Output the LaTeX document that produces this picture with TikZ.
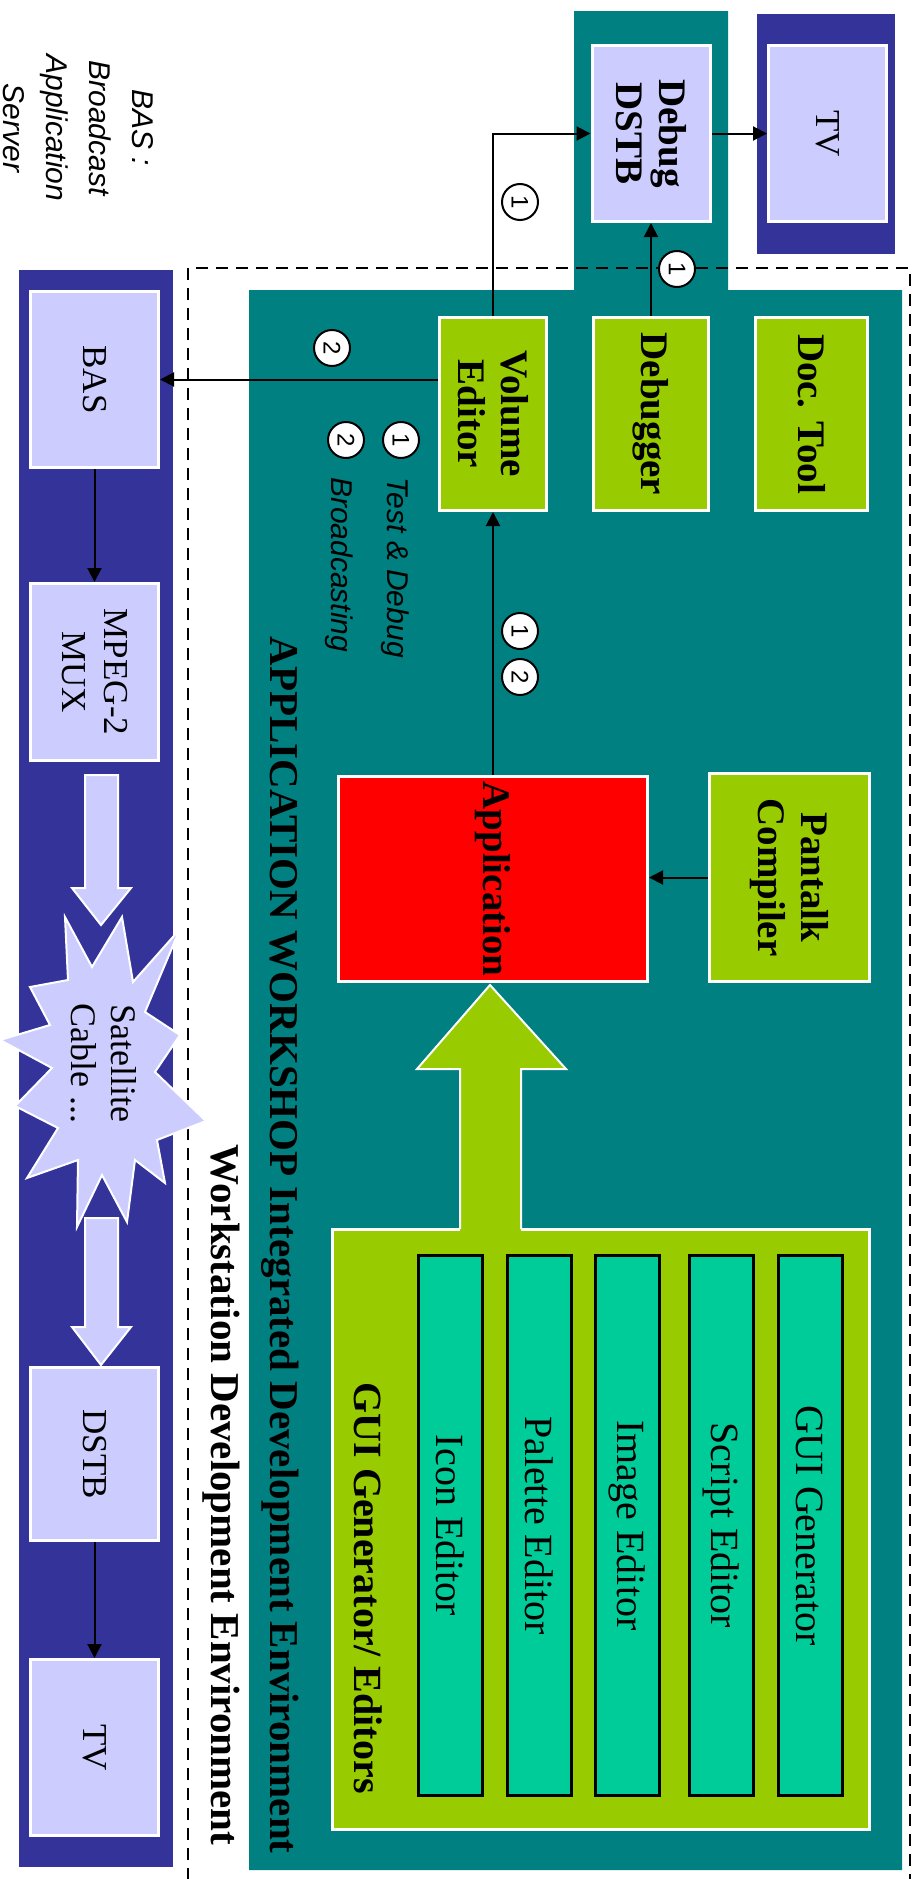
\documentclass[tikz,border=0pt]{standalone}
\usepackage{fontspec}
\setmainfont{Liberation Serif}
\setsansfont{Liberation Sans}
\usetikzlibrary{arrows.meta}
\definecolor{bandblue}{HTML}{333399}
\definecolor{lavender}{HTML}{CCCCFF}
\definecolor{wsteal}{HTML}{008080}
\definecolor{leaf}{HTML}{99CC00}
\definecolor{mint}{HTML}{00CC99}
\begin{document}
\begin{tikzpicture}[x=0.5pt, y=-0.5pt,
lavbox/.style={draw=white, line width=1.5pt, fill=lavender, rotate=-90, align=center, inner sep=2pt,
font=\fontsize{17.5}{21}\selectfont},
toolbox/.style={draw=white, line width=1.5pt, fill=leaf, rotate=-90, align=center, inner sep=2pt,
font=\bfseries\fontsize{19.5}{21.5}\selectfont},
editor/.style={draw=black, line width=1.5pt, fill=mint, rotate=-90, minimum width=270pt, minimum height=32pt,
font=\fontsize{20}{22}\selectfont},
num/.style={circle, draw=black, line width=1pt, fill=white, rotate=-90, minimum size=18pt, inner sep=0pt,
font=\sffamily\fontsize{12}{12}\selectfont},
note/.style={rotate=-90, align=center, font=\sffamily\itshape\fontsize{15}{21.5}\selectfont},
headline/.style={rotate=-90, font=\bfseries\fontsize{20.5}{24}\selectfont},
arrow/.style={-{Triangle[length=7pt,width=7pt]}, line width=1pt},
fatarrow/.style={draw=white, line width=1pt, fill=lavender}
]
\useasboundingbox (0,0) rectangle (918,1879);
\fill[bandblue] (19,270) rectangle (173,1867);
\fill[bandblue] (757,14) rectangle (895,254);
\fill[wsteal] (249,290) -- (574,290) -- (574,11) -- (728,11) -- (728,290) -- (902,290) -- (902,1870) -- (249,1870) -- cycle;
\draw[line width=1pt, dash pattern=on 6pt off 4pt] (188,1900) -- (188,268) -- (910,268) -- (910,1900);

\node[note] (basnote) at (78,128) {BAS :\\Broadcast\\Application\\Server};

\node[lavbox, minimum width=88pt, minimum height=59pt, font=\bfseries\fontsize{19.5}{21.5}\selectfont] (dstb) at (651,133.5) {Debug\\DSTB};
\node[lavbox, minimum width=88pt, minimum height=59pt] (tv) at (827.5,133.5) {TV};

\node[toolbox, minimum width=96.5pt, minimum height=53.5pt] (vol) at (493,414) {Volume\\Editor};
\node[toolbox, minimum width=96.5pt, minimum height=57.5pt] (dbg) at (651,414) {Debugger};
\node[toolbox, minimum width=96.5pt, minimum height=56pt] (doc) at (811.5,414) {Doc. Tool};
\node[toolbox, fill=red, minimum width=102.5pt, minimum height=154.5pt] (app) at (493,879) {Application};
\node[toolbox, minimum width=104pt, minimum height=80pt] (pan) at (789.5,877.5) {Pantalk\\Compiler};

\node[draw=white, line width=1.5pt, fill=leaf, rotate=-90, minimum width=300pt, minimum height=268.5pt] (gui) at (601,1529.5) {};
\node[headline, font=\bfseries\fontsize{20}{24}\selectfont] (guititle) at (368,1588) {GUI Generator/ Editors};
\node[editor] (icon) at (450,1525.5) {Icon Editor};
\node[editor] (palette) at (539.5,1525.5) {Palette Editor};
\node[editor] (image) at (627.5,1525.5) {Image Editor};
\node[editor] (script) at (721,1525.5) {Script Editor};
\node[editor] (guigen) at (810,1525.5) {GUI Generator};
\fill[leaf] (460,1232) -- (460,1069) -- (417,1069) -- (490,985) -- (566,1069) -- (521,1069) -- (521,1232) -- cycle;
\draw[white, line width=1pt] (460,1229) -- (460,1069) -- (417,1069) -- (490,985) -- (566,1069) -- (521,1069) -- (521,1229);

\node[headline] (awtitle) at (280,1245) {APPLICATION WORKSHOP Integrated Development Environment};
\node[headline] (wstitle) at (221,1495) {Workstation Development Environment};

\node[lavbox, minimum width=88pt, minimum height=64pt] (bas) at (94.5,379.5) {BAS};
\node[lavbox, minimum width=88.5pt, minimum height=64pt] (mpeg) at (94.5,672) {MPEG-2\\MUX};
\node[lavbox, minimum width=86.5pt, minimum height=64pt] (dstbl) at (94.5,1454) {DSTB};
\node[lavbox, minimum width=88pt, minimum height=64pt] (tvl) at (94.5,1747.5) {TV};

\draw[fatarrow] (85,775) -- (118,775) -- (118,888) -- (131,888) -- (101,925) -- (72,888) -- (85,888) -- cycle;
\draw[fatarrow] (65,917) -- (92,967) -- (122,917) -- (133,982) -- (180,929) -- (145,1012) -- (180,1035) -- (155,1072)
-- (206,1121) -- (157,1140) -- (165,1183) -- (135,1160) -- (127,1222) -- (102,1175) -- (77,1227) -- (78,1160)
-- (27,1178) -- (58,1128) -- (15,1106) -- (52,1068) -- (0,1040) -- (50,1025) -- (30,987) -- (68,980) -- cycle;
\node[rotate=-90, align=center, font=\fontsize{18}{20}\selectfont] (sat) at (104,1063) {Satellite\\Cable ...};
\draw[fatarrow] (85,1218) -- (118,1218) -- (118,1327) -- (131,1327) -- (101,1365) -- (72,1327) -- (85,1327) -- cycle;

\draw[arrow] (vol.west) |- (dstb.south);
\draw[arrow] (dbg.west) -- (dstb.east);
\draw[arrow] (dstb.north) -- (tv.south);
\draw[arrow] (vol.south |- bas) -- (bas.north);
\draw[arrow] (app.west) -- (vol.east);
\draw[arrow] (pan.south) -- (pan.south -| app.north);
\draw[arrow] (bas.east) -- (mpeg.west);
\draw[arrow] (dstbl.east) -- (tvl.west);

\node[num] (n1) at (520,202) {1};
\node[num] (n2) at (677,269) {1};
\node[num] (n3) at (332,348) {2};
\node[num] (n4) at (401,440) {1};
\node[num] (n5) at (346,440) {2};
\node[num] (n6) at (520,631) {1};
\node[num] (n7) at (520,677) {2};
\node[note, anchor=west] (testnote) at (395,470) {Test \& Debug};
\node[note, anchor=west] (castnote) at (339,470) {Broadcasting};
\end{tikzpicture}
\end{document}
